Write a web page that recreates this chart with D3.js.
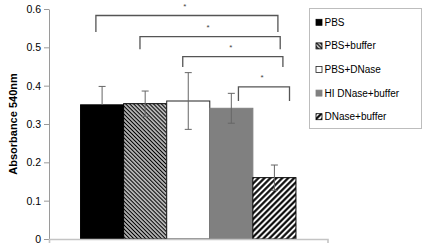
<!DOCTYPE html>
<html>
<head>
<meta charset="utf-8">
<script src="https://cdn.jsdelivr.net/npm/d3@7"></script>
<style>
body { margin: 0; background: #fff; }
svg { display: block; font-family: "Liberation Sans", Arial, sans-serif; }
</style>
</head>
<body>
<div id="chart"></div>
<script>
// data
const series = ['PBS', 'PBS+buffer', 'PBS+DNase', 'HI DNase+buffer', 'DNase+buffer'];
const means = [0.350, 0.353, 0.360, 0.341, 0.160];
const errors = [0.048, 0.033, 0.074, 0.039, 0.033];
const yTicks = [0, 0.1, 0.2, 0.3, 0.4, 0.5, 0.6];
// significance brackets: from series -> to series, bar height, leg end, label
const bracketFrom = [0, 1, 2, 3];
const bracketTo = [4, 4, 4, 4];
const bracketTop = [0.583, 0.528, 0.476, 0.397];
const bracketLeg = [0.540, 0.495, 0.449, 0.360];
const bracketLabel = ['*', '*', '*', '*'];

const width = 425, height = 248;
const svg = d3.select('#chart').append('svg').attr('width', width).attr('height', height);

const fills = ['#000', 'url(#hatchA)', '#fff', '#808080', 'url(#hatchB)'];
const strokes = ['#000', '#000', '#222', '#808080', '#000'];

//patterns
const defs = svg.append('defs');
const addHatch = (id, size, lw, angle) => {
	const p = defs.append('pattern')
		.attr('id', id)
		.attr('patternUnits', 'userSpaceOnUse')
		.attr('width', size)
		.attr('height', size)
		.attr('patternTransform', `rotate(${angle})`);
	p.append('rect').attr('width', size).attr('height', size).attr('fill', '#fff');
	p.append('line')
		.attr('x1', size / 2).attr('x2', size / 2)
		.attr('y1', 0).attr('y2', size)
		.attr('stroke', '#000')
		.attr('stroke-width', lw);
};
addHatch('hatchA', 2.8, 1.5, -45);
addHatch('hatchB', 4.2, 2.1, 45);

//scales
const y = d3.scaleLinear().domain([0, 0.6]).range([239, 9]);
const x0 = d3.scaleBand().domain(['all']).range([49, 327.5]).paddingOuter(0.1465);
const x1 = d3.scaleBand().domain(series).range([0, x0.bandwidth()]);
const cx = i => x0('all') + x1(series[i]) + x1.bandwidth() / 2;

//y axis
const yAxis = svg.append('g')
	.attr('transform', `translate(${x0.range()[0]},0)`)
	.call(d3.axisLeft(y).tickValues(yTicks).tickSize(5).tickPadding(3).tickSizeOuter(0)
		.tickFormat(d => d === 0 ? '0' : d3.format('.1f')(d)));
yAxis.select('.domain').attr('stroke', '#9a9a9a');
yAxis.selectAll('.tick line').attr('stroke', '#9a9a9a');
yAxis.selectAll('.tick text').attr('fill', '#000').attr('font-size', 10.5)
	.attr('font-family', '"Liberation Sans", Arial, sans-serif');

svg.append('text')
	.attr('transform', `translate(14,${(y(0) + y(0.6)) / 2}) rotate(-90)`)
	.attr('text-anchor', 'middle')
	.attr('dominant-baseline', 'middle')
	.attr('font-weight', 'bold')
	.attr('font-size', 11)
	.text('Absorbance 540nm');

//bars
const groups = series.map((s, i) => ({key: s, value: means[i], err: errors[i], i}));
svg.append('g')
	.selectAll('rect')
	.data(groups)
	.enter().append('rect')
	.attr('x', d => x0('all') + x1(d.key))
	.attr('y', d => y(d.value))
	.attr('width', x1.bandwidth())
	.attr('height', d => y(0) - y(d.value))
	.attr('fill', d => fills[d.i])
	.attr('stroke', d => strokes[d.i])
	.attr('stroke-width', 1);

//x axis
const xAxis = svg.append('g')
	.attr('transform', `translate(0,${y(0)})`)
	.call(d3.axisBottom(x0).tickValues([]).tickSizeOuter(4));
xAxis.select('.domain').attr('stroke', '#c4c4c4').attr('stroke-width', 1.6);

//error bars (the lower arm on the black bar is not visible in the figure)
const eb = svg.append('g').attr('stroke', '#666').attr('stroke-width', 1).attr('fill', 'none');
groups.forEach(d => {
	const xc = cx(d.i);
	const lo = d.i === 0 ? d.value : d.value - d.err;
	eb.append('line').attr('x1', xc).attr('x2', xc).attr('y1', y(d.value + d.err)).attr('y2', y(lo));
	eb.append('line').attr('x1', xc - 3.5).attr('x2', xc + 3.5).attr('y1', y(d.value + d.err)).attr('y2', y(d.value + d.err));
	if (d.i !== 0) {
		eb.append('line').attr('x1', xc - 3.5).attr('x2', xc + 3.5).attr('y1', y(lo)).attr('y2', y(lo));
	}
});

//brackets
const nudgeL = [-6.2, -5.2, -5.5, 7.1];
const nudgeR = [3.5, 5.8, 8.5, 15.1];
const br = svg.append('g');
bracketFrom.forEach((f, k) => {
	const xl = cx(f) + nudgeL[k], xr = cx(bracketTo[k]) + nudgeR[k];
	const yt = y(bracketTop[k]), yl = y(bracketLeg[k]);
	br.append('path')
		.attr('d', `M${xl},${yl}V${yt}H${xr}V${yl}`)
		.attr('fill', 'none')
		.attr('stroke', '#555')
		.attr('stroke-width', 1.3);
	br.append('text')
		.attr('x', (xl + xr) / 2 - 2)
		.attr('y', yt - 6.5)
		.attr('text-anchor', 'middle')
		.attr('font-size', 8)
		.attr('fill', '#444')
		.text(bracketLabel[k]);
});

//legend
const legend = svg.append('g').attr('transform', 'translate(309.5,8.5)');
legend.append('rect')
	.attr('width', 112)
	.attr('height', 120)
	.attr('fill', '#fff')
	.attr('stroke', '#bdbdbd');
const item = legend.selectAll('g.item')
	.data(groups)
	.enter().append('g')
	.attr('class', 'item')
	.attr('transform', d => `translate(0,${13.8 + d.i * 23.6})`);
item.append('rect')
	.attr('x', 6.5)
	.attr('y', -3)
	.attr('width', 6)
	.attr('height', 6)
	.attr('fill', d => fills[d.i])
	.attr('stroke', d => strokes[d.i])
	.attr('stroke-width', 0.8);
item.append('text')
	.attr('x', 15)
	.attr('y', 0)
	.attr('dy', '0.35em')
	.attr('font-size', 10)
	.text(d => d.key);
</script>
</body>
</html>
